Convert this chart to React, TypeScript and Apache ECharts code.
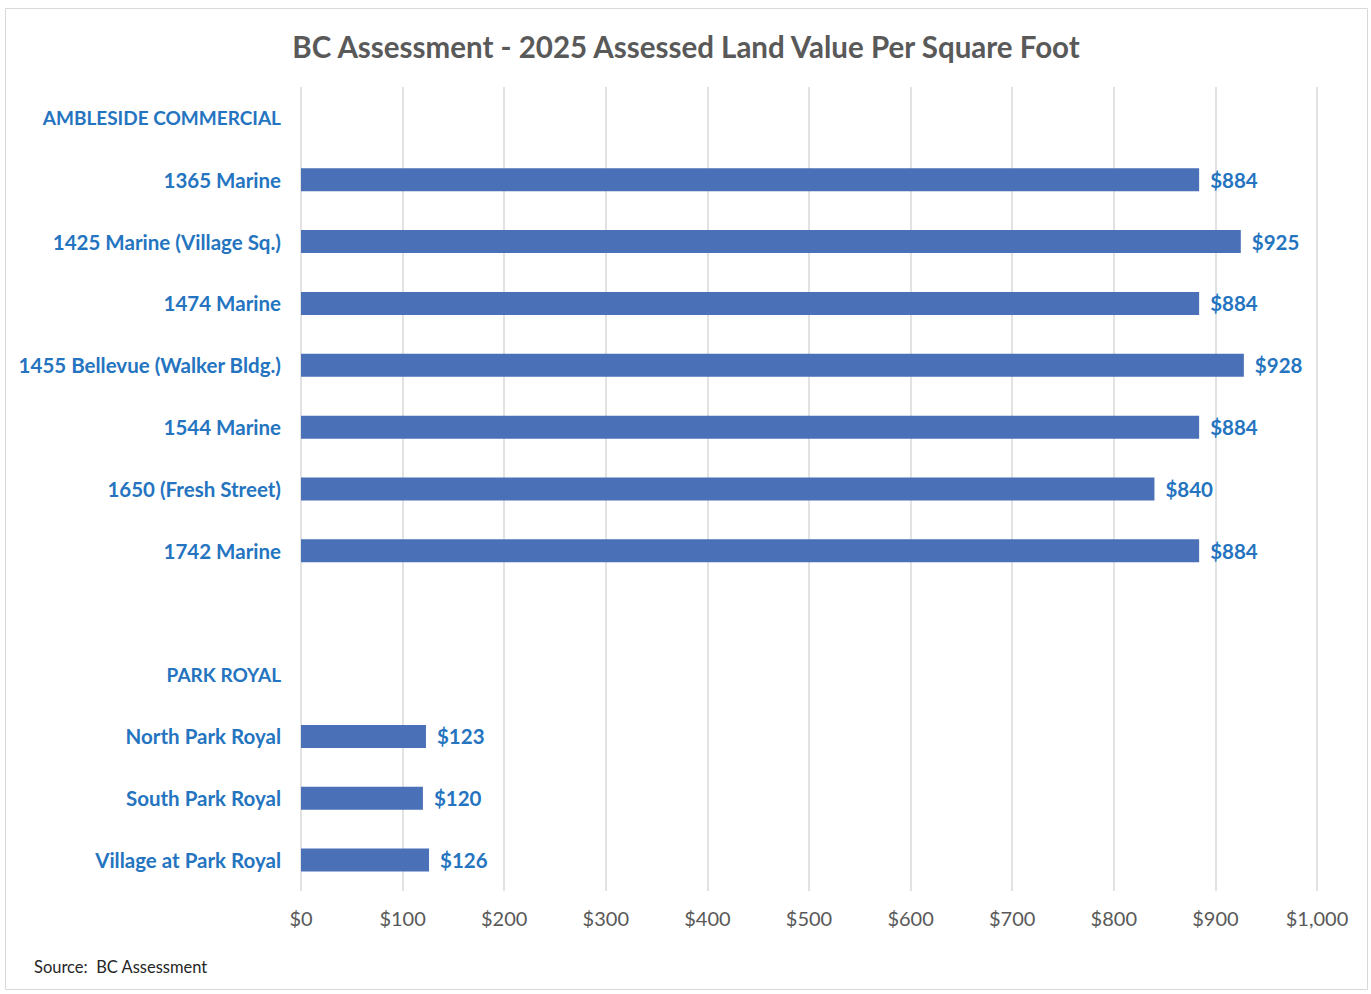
import React, { useEffect, useRef } from "react";
import * as echarts from "echarts";

const categories = [
  "AMBLESIDE COMMERCIAL",
  "1365 Marine",
  "1425 Marine (Village Sq.)",
  "1474 Marine",
  "1455 Bellevue (Walker Bldg.)",
  "1544 Marine",
  "1650 (Fresh Street)",
  "1742 Marine",
  "",
  "PARK ROYAL",
  "North Park Royal",
  "South Park Royal",
  "Village at Park Royal",
];
const headerRows = ["AMBLESIDE COMMERCIAL", "PARK ROYAL"];
const values: (number | null)[] = [null, 884, 925, 884, 928, 884, 840, 884, null, null, 123, 120, 126];
const xTicks = { min: 0, max: 1000, interval: 100 };
const title = "BC Assessment - 2025 Assessed Land Value Per Square Foot";
const source = "Source:  BC Assessment";

export default function App() {
  const ref = useRef<HTMLDivElement>(null);
  useEffect(() => {
    document.body.style.margin = "0";
    const chart = echarts.init(ref.current!, null, { renderer: "svg" });
    const font = "Lato, 'Open Sans', sans-serif";
    chart.setOption({
      animation: false,
      backgroundColor: "#ffffff",
      textStyle: { fontFamily: font },
      title: {
        text: title,
        left: 681,
        top: 26,
        textAlign: "center",
        textStyle: { fontSize: 29.5, fontWeight: "bold", color: "#595959", fontFamily: font },
      },
      graphic: [
        {
          type: "rect",
          shape: { x: 5.5, y: 8.5, width: 1362, height: 981 },
          style: { fill: "none", stroke: "#d9d9d9", lineWidth: 1 },
          silent: true,
        },
        {
          type: "text",
          left: 34,
          top: 958,
          style: { text: source, fontSize: 16.5, fill: "#262626", fontFamily: font },
        },
      ],
      grid: { left: 301, right: 54, top: 87, height: 804, containLabel: false },
      xAxis: {
        type: "value",
        min: xTicks.min,
        max: xTicks.max,
        interval: xTicks.interval,
        axisLine: { show: false },
        axisTick: { show: false },
        splitLine: { show: true, lineStyle: { color: "#d9d9d9", width: 1.5 } },
        axisLabel: {
          margin: 17,
          fontSize: 20,
          color: "#595959",
          fontFamily: font,
          formatter: (v: number) => "$" + v.toLocaleString("en-US"),
        },
      },
      yAxis: {
        type: "category",
        inverse: true,
        data: categories,
        axisLine: { show: false },
        axisTick: { show: false },
        axisLabel: {
          margin: 20,
          fontSize: 20.5,
          fontWeight: "bold",
          color: "#2474c0",
          fontFamily: font,
          formatter: (v: string) => (headerRows.includes(v) ? "{h|" + v + "}" : v),
          rich: {
            h: { fontSize: 19, fontWeight: "bold", color: "#2474c0", fontFamily: font },
          },
        },
      },
      series: [
        {
          type: "bar",
          data: values,
          barWidth: 23,
          itemStyle: { color: "#4a70b8" },
          label: {
            show: true,
            position: "right",
            distance: 11,
            fontSize: 20.5,
            fontWeight: "bold",
            color: "#2474c0",
            fontFamily: font,
            formatter: (p: any) => "$" + p.value,
          },
        },
      ],
    });
    return () => chart.dispose();
  }, []);
  return <div ref={ref} style={{ width: 1371, height: 994 }} />;
}
